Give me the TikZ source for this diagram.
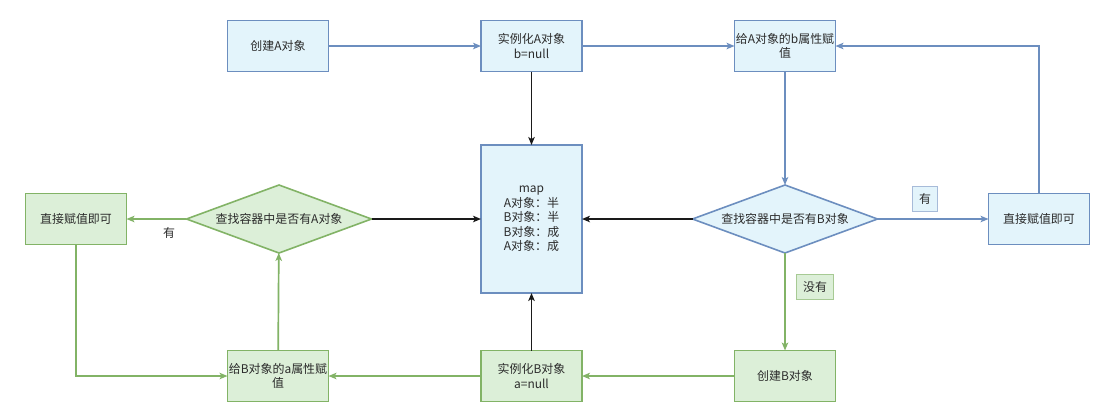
\documentclass[tikz,border=0pt]{standalone}
\usepackage{fontspec}
\setmainfont{Noto Sans CJK SC}
\usetikzlibrary{arrows.meta,shapes.geometric}
\definecolor{bfill}{HTML}{E3F4FB}
\definecolor{bline}{HTML}{6C8EBF}
\definecolor{gfill}{HTML}{DCEFD8}
\definecolor{gline}{HTML}{82B366}
\definecolor{txt}{HTML}{2B2B2B}
\definecolor{kline}{HTML}{1A1A1A}
\begin{document}
\begin{tikzpicture}[x=1bp,y=-1bp,
  font=\fontsize{12}{14.5}\selectfont,
  bbox/.style={draw=bline, fill=bfill, line width=1.6pt, minimum width=101bp, minimum height=51bp,
    align=center, text=txt, inner sep=1pt, outer sep=0pt},
  gbox/.style={bbox, draw=gline, fill=gfill},
  bdia/.style={diamond, draw=bline, fill=bfill, line width=1.6pt, aspect=2.72, inner sep=0pt,
    minimum width=185bp, minimum height=68bp, text=txt, outer sep=0pt},
  gdia/.style={bdia, draw=gline, fill=gfill},
  tip/.style={-{Stealth[length=8pt,width=6.5pt,inset=2pt]}},
  barrow/.style={tip, draw=bline, line width=1.7pt},
  garrow/.style={tip, draw=gline, line width=1.7pt},
  karrow/.style={tip, draw=kline, line width=1.7pt},
  lab/.style={text=txt, inner sep=2pt, line width=1pt, minimum height=25bp}
]
\fill[white] (0,0) rectangle (1104,404);
\useasboundingbox (0,0) rectangle (1104,404);

% top row
\node[bbox] (cA) at (278,46) {创建A对象};
\node[bbox] (iA) at (531.5,46) {实例化A对象\\b=null};
\node[bbox] (gA) at (785,46) {给A对象的b属性赋\\值};
% middle row
\node[gbox] (lbox) at (76,219) {直接赋值即可};
\node[gdia] (dA) at (279,219) {查找容器中是否有A对象};
\node[bbox, minimum height=148bp] (map) at (531.5,219) {map\\A对象：半\\B对象：半\\B对象：成\\A对象：成};
\node[bdia] (dB) at (785,219) {查找容器中是否有B对象};
\node[bbox] (rbox) at (1039,219) {直接赋值即可};
% bottom row
\node[gbox] (gB) at (278,376) {给B对象的a属性赋\\值};
\node[gbox] (iB) at (531.5,376) {实例化B对象\\a=null};
\node[gbox] (cB) at (785,376) {创建B对象};

% labels
\node[lab] (yesA) at (169,233) {有};
\node[lab, draw=bline!60, fill=bfill, minimum width=25bp] (yesB) at (925,198.5) {有};
\node[lab, draw=gline!70, fill=gfill, minimum width=37bp] (noB) at (815,286.5) {没有};

% connectors
\draw[barrow] (cA) -- (iA);
\draw[barrow] (iA) -- (gA);
\draw[karrow] (iA) -- (map);
\draw[barrow] (gA) -- (dB);
\draw[karrow] (dB) -- (map);
\draw[barrow] (dB) -- (rbox);
\draw[barrow] (rbox.north) |- (gA.east);
\draw[garrow] (dB) -- (cB);
\draw[garrow] (cB) -- (iB);
\draw[karrow] (iB) -- (map);
\draw[garrow] (iB) -- (gB);
\draw[garrow] (gB) -- (dA);
\draw[karrow] (dA) -- (map);
\draw[garrow] (dA) -- (lbox);
\draw[garrow] (lbox.south) |- (gB.west);
\end{tikzpicture}
\end{document}
